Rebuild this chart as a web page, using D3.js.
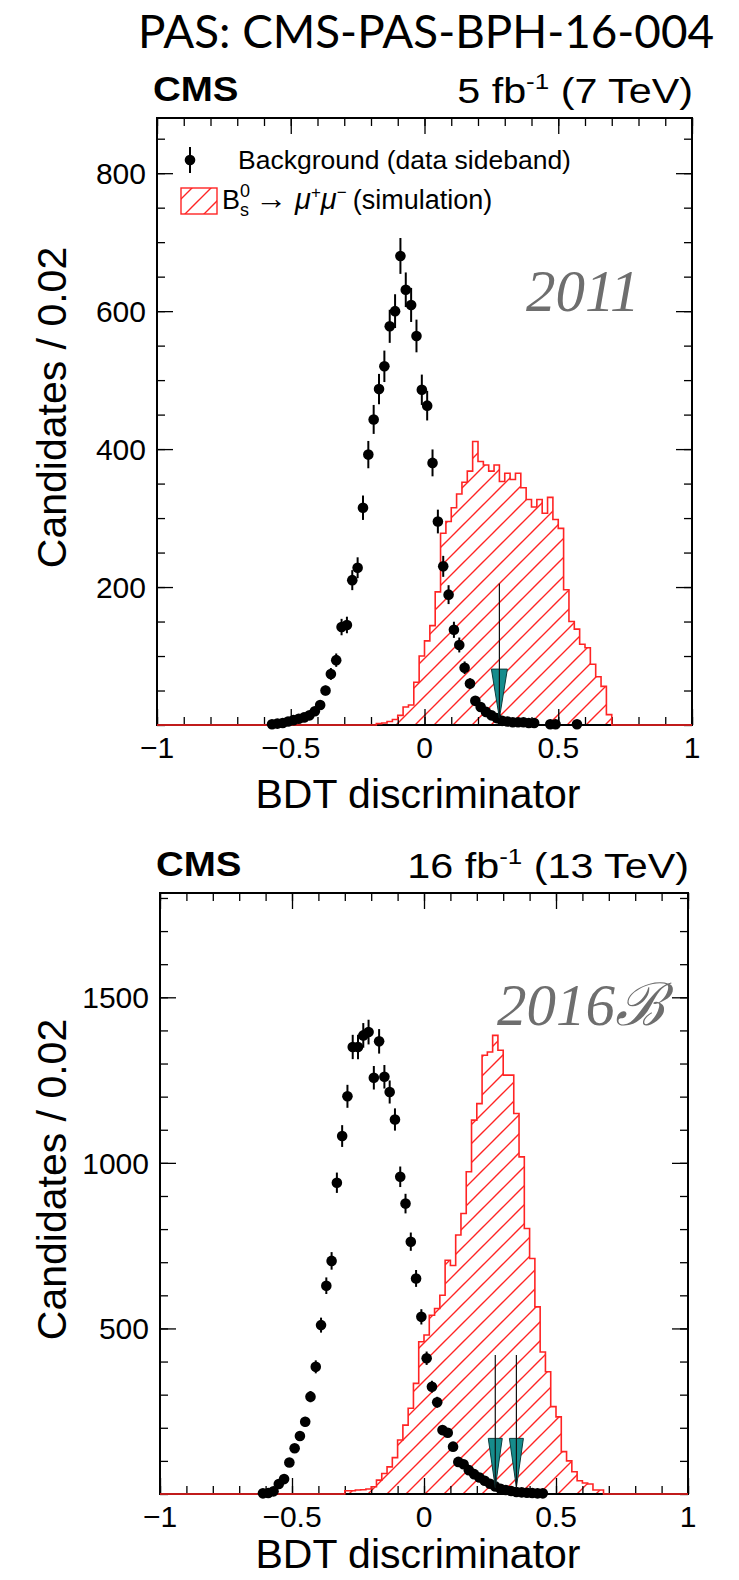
<!DOCTYPE html>
<html lang="en">
<head>
<meta charset="utf-8">
<title>BDT discriminator - CMS-PAS-BPH-16-004</title>
<script src="https://cdn.jsdelivr.net/npm/d3@7"></script>
<style>
  body { margin: 0; background: #fff; }
  svg text { font-family: "Liberation Sans", Arial, Helvetica, sans-serif; fill: #000; }
</style>
</head>
<body>
<svg id="chart" width="739" height="1580"></svg>
<script>

// ---------- data ----------
var xTickValues = [-1, -0.5, 0, 0.5, 1];
var xTickLabels = ["\u22121", "\u22120.5", "0", "0.5", "1"];

var yTicks2011 = [200, 400, 600, 800];
var yTicks2016 = [500, 1000, 1500];

// 2011: background (data sideband), bin centres / counts / errors
var bkgX2011 = [-0.57,-0.55,-0.53,-0.51,-0.49,-0.47,-0.45,-0.43,-0.41,-0.39,-0.37,-0.35,-0.33,-0.31,-0.29,
  -0.27,-0.25,-0.23,-0.21,-0.19,-0.17,-0.15,-0.13,-0.11,-0.09,-0.07,-0.05,-0.03,-0.01,0.01,0.03,0.05,0.07,
  0.09,0.11,0.13,0.15,0.17,0.19,0.21,0.23,0.25,0.27,0.29,0.31,0.33,0.35,0.37,0.39,0.41,0.47,0.49,0.57];
var bkgN2011 = [1,2,3,5,7,9,11,14,20,29,50,74,94,142,145,
  210,228,315,392,443,487,520,578,600,680,631,609,564,486,463,380,295,230,
  189,138,116,83,60,35,26,19,14,10,6,5,4,4,4,3,3,1,1,1];
var bkgErr2011 = [1,1.4,1.7,2.2,2.6,3,3.3,3.7,4.5,5.4,7.1,8.6,9.7,11.9,12,
  14.5,15.1,17.7,19.8,21,22,22.8,24,24.5,26,25.1,24.7,23.7,22,21.5,19.5,17.2,15.2,
  13.7,11.7,10.8,9.1,7.7,5.9,5.1,4.4,3.7,3.2,2.4,2.2,2,2,2,1.7,1.7,1,1,1];

// 2011: Bs -> mu mu simulation, bin low edges (width 0.02) / contents
var sigLo2011 = [-0.18,-0.16,-0.14,-0.12,-0.10,-0.08,-0.06,-0.04,-0.02,0.00,0.02,0.04,0.06,0.08,0.10,
  0.12,0.14,0.16,0.18,0.20,0.22,0.24,0.26,0.28,0.30,0.32,0.34,0.36,0.38,0.40,0.42,0.44,0.46,0.48,0.50,
  0.52,0.54,0.56,0.58,0.60,0.62,0.64,0.66,0.68];
var sigN2011 = [2,3,5,8,14,26,29,62,100,122,144,193,278,295,315,
  335,352,368,411,382,377,368,377,353,365,356,365,344,327,316,327,307,330,298,285,
  196,150,139,117,112,88,70,56,15];

var arrowX2011 = [0.28];
var arrowTop2011 = [205];
var arrowTip2011 = [10];

// 2016B
var bkgX2016 = [-0.61,-0.59,-0.57,-0.55,-0.53,-0.51,-0.49,-0.47,-0.45,-0.43,-0.41,-0.39,-0.37,-0.35,-0.33,
  -0.31,-0.29,-0.27,-0.25,-0.23,-0.21,-0.19,-0.17,-0.15,-0.13,-0.11,-0.09,-0.07,-0.05,-0.03,-0.01,0.01,0.03,
  0.05,0.07,0.09,0.11,0.13,0.15,0.17,0.19,0.21,0.23,0.25,0.27,0.29,0.31,0.33,0.35,0.37,0.39,0.41,0.43,0.45];
var bkgN2016 = [2,3,8,30,45,95,138,175,218,294,384,510,629,704,940,
  1081,1201,1350,1350,1385,1395,1257,1367,1260,1214,1131,958,877,762,651,535,410,324,
  277,193,185,143,97,90,72,60,50,40,31,23,16,12,9,6,5,4,3,2,2];
var bkgErr2016 = [1.4,1.7,2.8,5.5,6.7,9.7,11.7,13.2,14.8,17.1,19.6,22.6,25.1,26.5,30.7,
  32.9,34.7,36.7,36.7,37.2,37.3,35.5,37,35.5,34.8,33.6,31,29.6,27.6,25.5,23.1,20.2,18,
  16.6,13.9,13.6,12,9.8,9.5,8.5,7.7,7.1,6.3,5.6,4.8,4,3.5,3,2.4,2.2,2,1.7,1.4,1.4];

var sigLo2016 = [-0.30,-0.28,-0.26,-0.24,-0.22,-0.20,-0.18,-0.16,-0.14,-0.12,-0.10,-0.08,-0.06,-0.04,-0.02,
  0.00,0.02,0.04,0.06,0.08,0.10,0.12,0.14,0.16,0.18,0.20,0.22,0.24,0.26,0.28,0.30,0.32,0.34,0.36,0.38,
  0.40,0.42,0.44,0.46,0.48,0.50,0.52,0.54,0.56,0.58,0.60,0.62,0.64,0.66];
var sigN2016 = [10,10,12,13,15,22,42,62,82,110,163,208,259,334,460,
  480,540,560,600,706,690,782,847,973,1129,1179,1325,1335,1385,1340,1265,1265,1149,1018,802,
  711,565,429,369,264,233,128,100,67,40,33,30,12,12];

var arrowX2016 = [0.27, 0.35];
var arrowTop2016 = [420, 420];
var arrowTip2016 = [20, 20];

var binWidth = 0.02;

// ---------- drawing ----------
var svg = d3.select("#chart");
var RED = "#ff2424";

var defs = svg.append("defs");
defs.append("pattern")
  .attr("id", "hatch")
  .attr("patternUnits", "userSpaceOnUse")
  .attr("width", 19).attr("height", 19)
  .append("path")
  .attr("d", "M-3,3 L3,-3 M0,19 L19,0 M16,22 L22,16")
  .attr("stroke", RED)
  .attr("stroke-width", 1.4);

// title
svg.append("text")
  .attr("x", 138).attr("y", 48)
  .attr("textLength", 576).attr("lengthAdjust", "spacingAndGlyphs")
  .style("font-family", "Lato, 'Open Sans', sans-serif")
  .style("font-size", "46px")
  .text("PAS: CMS-PAS-BPH-16-004");

var panels = [
  { left: 157, right: 692, top: 118, bottom: 725, ymax: 880, minorY: 50,
    yTicks: yTicks2011, bkgX: bkgX2011, bkgN: bkgN2011, bkgErr: bkgErr2011,
    sigLo: sigLo2011, sigN: sigN2011, arX: arrowX2011, arTop: arrowTop2011, arTip: arrowTip2011,
    headHalf: 8, lumi: ["5 fb", "-1", " (7 TeV)"], tag: "2011", tagX: 526, tagY: 311,
    xTitleY: 808, legend: true },
  { left: 160, right: 688, top: 893, bottom: 1494, ymax: 1815, minorY: 100,
    yTicks: yTicks2016, bkgX: bkgX2016, bkgN: bkgN2016, bkgErr: bkgErr2016,
    sigLo: sigLo2016, sigN: sigN2016, arX: arrowX2016, arTop: arrowTop2016, arTip: arrowTip2016,
    headHalf: 7, lumi: ["16 fb", "-1", " (13 TeV)"], tag: "2016\u212C", tagX: 497, tagY: 1025,
    xTitleY: 1568, legend: false }
];

panels.forEach(function(p, i) {

  var x = d3.scaleLinear().domain([-1, 1]).range([p.left, p.right]);
  var y = d3.scaleLinear().domain([0, p.ymax]).range([p.bottom, p.top]);
  var g = svg.append("g").attr("class", "panel" + i);

  // signal histogram (hatched, red outline), zero line across full range
  var pts = [[-1, 0], [p.sigLo[0], 0]];
  p.sigLo.forEach(function(lo, k) {
    pts.push([lo, p.sigN[k]]);
    pts.push([lo + binWidth, p.sigN[k]]);
  });
  pts.push([p.sigLo[p.sigLo.length - 1] + binWidth, 0]);
  pts.push([1, 0]);

  var line = d3.line().x(function(d) { return x(d[0]); }).y(function(d) { return y(d[1]); });

  g.append("path")
    .attr("d", line(pts) + "Z")
    .attr("fill", "url(#hatch)")
    .attr("stroke", "none");

  // frame + ticks (ROOT style, on all four sides, pointing in)
  var minorX = d3.range(-1, 1.0001, 0.1);
  var minorYv = d3.range(0, p.ymax + 0.1, p.minorY);

  var axes = [
    { ax: d3.axisBottom(x), tr: "translate(0," + p.bottom + ")", mv: minorX, major: xTickValues },
    { ax: d3.axisTop(x), tr: "translate(0," + p.top + ")", mv: minorX, major: xTickValues },
    { ax: d3.axisLeft(y), tr: "translate(" + p.left + ",0)", mv: minorYv, major: p.yTicks },
    { ax: d3.axisRight(y), tr: "translate(" + p.right + ",0)", mv: minorYv, major: p.yTicks }
  ];
  axes.forEach(function(a) {
    [[a.mv, -8], [a.major, -16]].forEach(function(t) {
      g.append("g").attr("transform", a.tr)
        .call(a.ax.tickValues(t[0]).tickSizeInner(t[1]).tickSizeOuter(0).tickFormat(""))
        .call(function(s) {
          s.select(".domain").remove();
          s.selectAll(".tick line").attr("stroke", "#000").attr("stroke-width", 1.3);
        });
    });
  });

  g.append("rect")
    .attr("x", p.left).attr("y", p.top)
    .attr("width", p.right - p.left).attr("height", p.bottom - p.top)
    .attr("fill", "none").attr("stroke", "#000").attr("stroke-width", 2);

  // red outline of simulation drawn over the frame's bottom edge
  g.append("path")
    .attr("d", line(pts))
    .attr("fill", "none")
    .attr("stroke", RED)
    .attr("stroke-width", 1.6);

  // tick labels
  xTickValues.forEach(function(v, k) {
    g.append("text")
      .attr("x", x(v)).attr("y", p.bottom + 33)
      .attr("text-anchor", "middle")
      .style("font-size", "30px")
      .text(xTickLabels[k]);
  });
  p.yTicks.forEach(function(v) {
    g.append("text")
      .attr("x", p.left - 11).attr("y", y(v))
      .attr("dy", "0.36em")
      .attr("text-anchor", "end")
      .style("font-size", "30px")
      .text(v);
  });

  // background points
  g.selectAll(".err")
    .data(p.bkgX)
    .enter().append("line")
    .attr("x1", function(d) { return x(d); })
    .attr("x2", function(d) { return x(d); })
    .attr("y1", function(d, k) { return y(p.bkgN[k] - p.bkgErr[k]); })
    .attr("y2", function(d, k) { return y(p.bkgN[k] + p.bkgErr[k]); })
    .attr("stroke", "#000").attr("stroke-width", 2);

  g.selectAll(".pt")
    .data(p.bkgX)
    .enter().append("circle")
    .attr("cx", function(d) { return x(d); })
    .attr("cy", function(d, k) { return y(p.bkgN[k]); })
    .attr("r", 5.3)
    .attr("fill", "#000");

  // working-point arrows
  p.arX.forEach(function(v, k) {
    var xt = x(v), yTip = y(p.arTip[k]), yHead = yTip - 49;
    g.append("path")
      .attr("d", "M" + (xt - p.headHalf) + "," + yHead + " L" + (xt + p.headHalf) + "," + yHead + " L" + xt + "," + yTip + "Z")
      .attr("fill", "#168c8c").attr("stroke", "#0b3c3c").attr("stroke-width", 1);
    g.append("line")
      .attr("x1", xt).attr("x2", xt)
      .attr("y1", y(p.arTop[k])).attr("y2", yTip)
      .attr("stroke", "#111").attr("stroke-width", 1.2);
  });

  // CMS label + lumi (the original figure is a little stretched sideways)
  g.append("text")
    .attr("transform", "translate(" + (p.left - 4) + "," + (p.top - 17) + ") scale(1.1,1)")
    .style("font-size", "35px").style("font-weight", "bold")
    .text("CMS");

  var lumi = g.append("text")
    .attr("transform", "translate(" + (p.right + 1) + "," + (p.top - 15) + ") scale(1.18,1)")
    .attr("text-anchor", "end")
    .style("font-size", "35px");
  lumi.append("tspan").text(p.lumi[0]);
  lumi.append("tspan").attr("dy", -14).style("font-size", "22px").text(p.lumi[1]);
  lumi.append("tspan").attr("dy", 14).text(p.lumi[2]);

  // axis titles
  g.append("text")
    .attr("x", 418).attr("y", p.xTitleY)
    .attr("text-anchor", "middle")
    .style("font-size", "41px")
    .text("BDT discriminator");

  g.append("text")
    .attr("transform", "translate(66," + ((p.top + p.bottom) / 2 - 14) + ") rotate(-90)")
    .attr("text-anchor", "middle")
    .style("font-size", "41px")
    .text("Candidates / 0.02");

  // year tag
  g.append("text")
    .attr("x", p.tagX).attr("y", p.tagY)
    .style("font-family", "'Liberation Serif', 'DejaVu Serif', serif")
    .style("font-style", "italic")
    .style("font-size", "59px")
    .style("fill", "#6e6e6e")
    .text(p.tag);

  // legend
  if (p.legend) {
    var lx = 190;
    g.append("line").attr("x1", lx).attr("x2", lx).attr("y1", 147).attr("y2", 173)
      .attr("stroke", "#000").attr("stroke-width", 2);
    g.append("circle").attr("cx", lx).attr("cy", 160).attr("r", 5.3).attr("fill", "#000");
    g.append("text").attr("x", 238).attr("y", 169)
      .style("font-size", "26.5px")
      .text("Background (data sideband)");

    g.append("rect").attr("x", 181).attr("y", 188).attr("width", 36).attr("height", 26)
      .attr("fill", "url(#hatch)").attr("stroke", RED).attr("stroke-width", 1.4);
    var t = g.append("text").attr("x", 222).attr("y", 209).style("font-size", "27px");
    t.append("tspan").text("B");
    t.append("tspan").attr("dy", -12).style("font-size", "18px").text("0");
    t.append("tspan").attr("dx", -10).attr("dy", 19).style("font-size", "18px").text("s");
    t.append("tspan").attr("dx", 6).attr("dy", -7).style("font-size", "32px").text("\u2192");
    t.append("tspan").attr("dx", 8).style("font-style", "italic").style("font-size", "29px").text("\u03BC");
    t.append("tspan").attr("dy", -11).style("font-size", "17px").text("+");
    t.append("tspan").attr("dy", 11).style("font-style", "italic").style("font-size", "29px").text("\u03BC");
    t.append("tspan").attr("dy", -11).style("font-size", "17px").text("\u2212");
    t.append("tspan").attr("dx", 6).attr("dy", 11).text("(simulation)");
  }
});

</script>
</body>
</html>
